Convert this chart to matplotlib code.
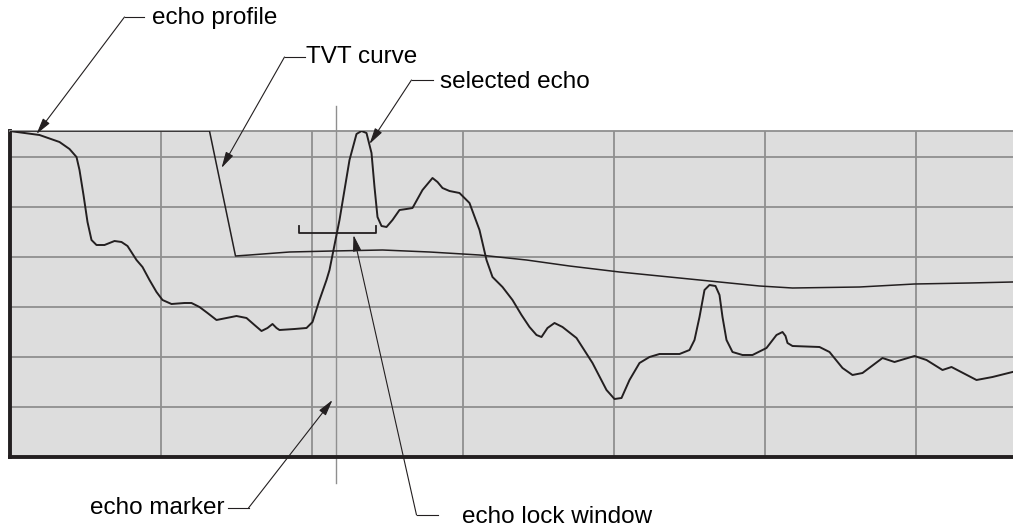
import matplotlib
matplotlib.use("Agg")
import matplotlib.pyplot as plt
import numpy as np

plt.rcParams.update({
    "font.family": ["Liberation Sans", "DejaVu Sans"],
    "font.size": 17.5,
})

# echo profile (distance units, level units)
echo_x = [0, 30, 50, 60, 67, 70, 74, 78, 82, 87, 95, 105, 112, 118, 127, 133,
          140, 147, 153, 162, 175, 182, 190, 198, 207, 217, 227, 237, 245, 252,
          258, 263, 267, 270, 285, 297, 303, 310, 317, 320, 330, 340, 347, 352,
          357, 362, 365, 368, 372, 377, 383, 390, 397, 403, 413, 423, 428, 433,
          440, 450, 460, 470, 477, 483, 493, 503, 512, 520, 527, 532, 538, 545,
          553, 567, 583, 597, 605, 612, 620, 630, 640, 650, 670, 680, 685, 690,
          695, 700, 706, 710, 713, 717, 723, 733, 743, 757, 767, 773, 776, 778,
          783, 810, 820, 833, 843, 853, 873, 885, 905, 917, 933, 942, 967, 983,
          1003]
echo_y = [326, 322, 315, 308, 300, 287, 262, 235, 217, 212, 212, 216, 215, 211,
          197, 190, 177, 165, 157, 153, 154, 154, 150, 144, 137, 139, 141, 139,
          132, 126, 129, 133, 129, 127, 128, 129, 135, 157, 177, 187, 237, 297,
          323, 326, 324, 304, 270, 240, 231, 230, 237, 247, 248, 249, 267, 279,
          275, 269, 266, 264, 254, 227, 197, 180, 170, 157, 142, 130, 122, 120,
          129, 134, 130, 119, 94, 67, 58, 59, 77, 94, 100, 103, 103, 107, 117,
          140, 167, 172, 171, 162, 140, 117, 105, 102, 102, 109, 122, 125, 121,
          114, 111, 110, 105, 89, 82, 84, 99, 95, 101, 97, 87, 90, 77, 80, 85]

# TVT curve
tvt_x = [0, 200, 226, 240, 280, 323, 373, 420, 470, 517, 560, 610, 660, 700,
         750, 783, 850, 905, 960, 1003]
tvt_y = [326, 326, 201, 202, 205, 206, 207, 205, 202, 197, 191, 185, 180, 176,
         171, 169, 170, 173, 174, 175]

# echo marker position and echo lock window
marker_x = 326
window_x = [289, 366]
window_y = 224

x_grid = [151, 302, 453, 604, 755, 906]
y_grid = [50, 100, 150, 200, 250, 300]

ink = "#231f20"
grid_c = "#8f8f8f"

fig = plt.figure(figsize=(10.13, 5.29), dpi=100)
ax = fig.add_axes([9.5 / 1013, 72 / 529, 1003.5 / 1013, 326 / 529])
ax.set_xlim(0, 1003.5)
ax.set_ylim(0, 326)
ax.set_facecolor("#dddddd")
ax.set_xticks([])
ax.set_yticks([])

for gx in x_grid:
    ax.axvline(gx, color=grid_c, lw=1.3, zorder=1)
for gy in y_grid:
    ax.axhline(gy, color=grid_c, lw=1.3, zorder=1)

ax.spines["right"].set_visible(False)
ax.spines["top"].set_color(grid_c)
ax.spines["top"].set_linewidth(1.3)
ax.spines["left"].set_color(ink)
ax.spines["left"].set_linewidth(2.8)
ax.spines["bottom"].set_color(ink)
ax.spines["bottom"].set_linewidth(2.8)

ax.plot(echo_x, echo_y, color=ink, lw=1.4, zorder=3, solid_joinstyle="round")
ax.plot(tvt_x, tvt_y, color=ink, lw=1.1, zorder=3)

# echo marker
ax.plot([marker_x, marker_x], [351, -26], color=grid_c, lw=1.0, zorder=2,
        clip_on=False)

# echo lock window bracket
ax.plot([window_x[0], window_x[0], window_x[1], window_x[1]],
        [window_y + 7, window_y, window_y, window_y + 7],
        color=ink, lw=1.3, zorder=4)

# callouts: (text, tip, knee, end of horizontal leader, text anchor, ha)
callouts = [
    ("echo profile", (27, 323), (115, 440), (134, 440), (142, 439), "left"),
    ("TVT curve", (212, 289), (275, 400), (295, 400), (297, 400), "left"),
    ("selected echo", (360, 313), (402, 377), (423, 377), (430, 375), "left"),
    ("echo marker", (323, 57), (239, -51), (218, -51), (215, -51), "right"),
    ("echo lock window", (344, 222), (407, -58), (428, -58), (452, -60), "left"),
]
for label, tip, knee, hend, tpos, ha in callouts:
    ax.plot([hend[0], knee[0]], [hend[1], knee[1]], color=ink, lw=0.8,
            clip_on=False)
    ax.annotate("", xy=tip, xytext=knee, annotation_clip=False,
                arrowprops=dict(arrowstyle="-|>,head_length=0.7,head_width=0.18",
                                color=ink, lw=0.8, mutation_scale=14,
                                shrinkA=0, shrinkB=0))
    ax.text(tpos[0], tpos[1], label, ha=ha, va="center", color="black",
            clip_on=False)

fig.savefig("out.png", dpi=100)
